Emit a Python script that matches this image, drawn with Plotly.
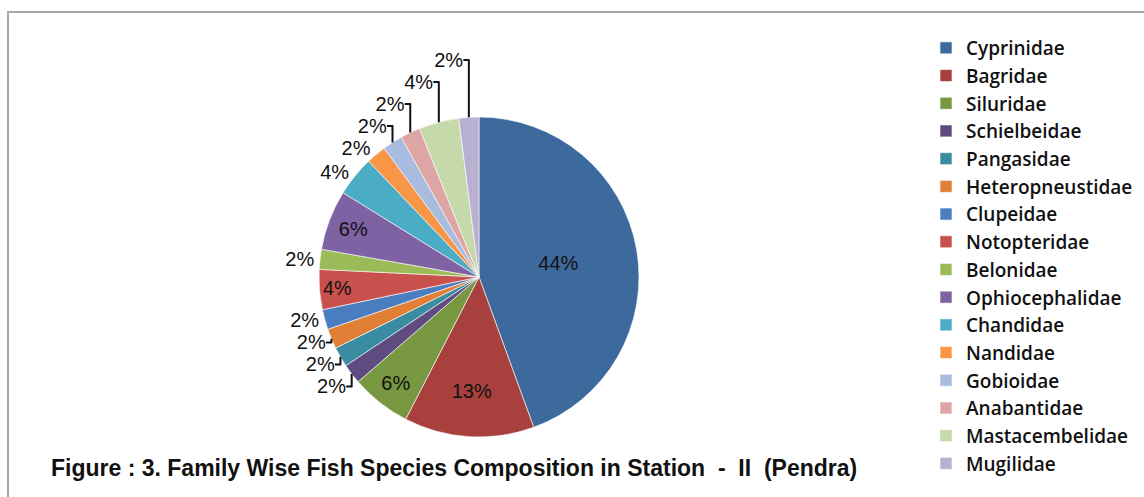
import plotly.graph_objects as go

families = ["Cyprinidae", "Bagridae", "Siluridae", "Schielbeidae", "Pangasidae",
            "Heteropneustidae", "Clupeidae", "Notopteridae", "Belonidae",
            "Ophiocephalidae", "Chandidae", "Nandidae", "Gobioidae",
            "Anabantidae", "Mastacembelidae", "Mugilidae"]
percent = [44, 13, 6, 2, 2, 2, 2, 4, 2, 6, 4, 2, 2, 2, 4, 2]
colors = ["#3D6A9D", "#A8413E", "#779740", "#604B80", "#3A8CA3", "#E07F35",
          "#4A7EC0", "#C8504D", "#9BBB59", "#7E62A3", "#4BACC6", "#F79646",
          "#A8BCE0", "#DDA5A4", "#C6D9AA", "#B9AFD0"]
text_pos = ["inside", "inside", "inside", "outside", "outside", "outside",
            "outside", "inside", "outside", "inside", "outside", "outside",
            "outside", "outside", "outside", "outside"]

W, H = 1144, 497
fig = go.Figure(go.Pie(
    labels=families, values=percent, sort=False, direction="clockwise",
    rotation=0,
    marker=dict(colors=colors, line=dict(color="rgba(255,255,255,0.6)", width=1)),
    texttemplate="%{percent:.0%}", textposition=text_pos,
    insidetextorientation="horizontal",
    textfont=dict(family="Liberation Sans, Arial", size=20, color="#111111"),
    domain=dict(x=[319 / W, 639 / W], y=[1 - 439 / H, 1 - 115 / H]),
    showlegend=True,
))

fig.update_layout(
    width=W, height=H,
    margin=dict(l=0, r=0, t=0, b=0),
    paper_bgcolor="white", plot_bgcolor="white",
    legend=dict(x=926 / W, y=1 - 29 / H, xanchor="left", yanchor="top",
                font=dict(family="Open Sans", size=19, color="#111111", weight=600),
                bgcolor="rgba(0,0,0,0)"),
    shapes=[dict(type="rect", xref="paper", yref="paper",
                 x0=8 / W, x1=1.2, y0=-0.2, y1=1 - 12 / H,
                 line=dict(color="#A8A8A8", width=2), fillcolor="rgba(0,0,0,0)")],
    annotations=[dict(text="Figure : 3. Family Wise Fish Species Composition in Station  -  II  (Pendra)",
                      xref="paper", yref="paper", x=49 / W, y=1 - 468 / H,
                      xanchor="left", yanchor="middle", showarrow=False,
                      font=dict(family="Liberation Sans, Arial", size=23, color="#111111", weight="bold"))],
)

fig.write_html("out.html", config={"displayModeBar": False},
               post_script="document.body.style.margin='0';")
